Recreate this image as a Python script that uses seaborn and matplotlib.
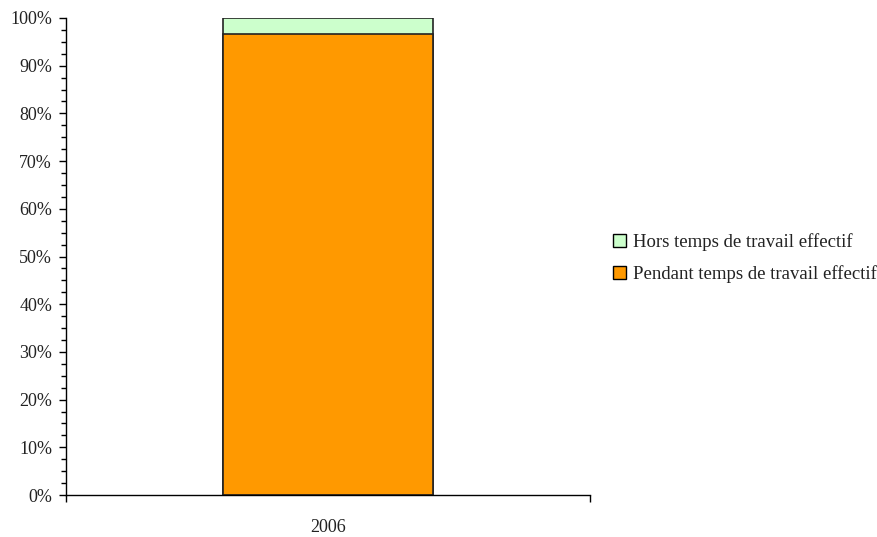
import matplotlib
matplotlib.use("Agg")
import matplotlib.pyplot as plt
from matplotlib.patches import Patch
from matplotlib.ticker import MultipleLocator, FuncFormatter, FixedLocator
import seaborn as sns
import pandas as pd

# Data: share of time (%) by period, 2006
years = ["2006"]
pendant = [96.6]   # Pendant temps de travail effectif
hors = [3.4]       # Hors temps de travail effectif
series_labels = ["Hors temps de travail effectif", "Pendant temps de travail effectif"]

sns.set_style("white")
plt.rcParams["font.family"] = ["Liberation Serif", "DejaVu Serif"]

df = pd.DataFrame({
    "annee": years,
    "pendant": pendant,
    "total": [p + h for p, h in zip(pendant, hors)],
})

fig = plt.figure(figsize=(8.77, 5.37), dpi=100)
ax = fig.add_axes([66 / 877, 1 - 495 / 537, (590 - 66) / 877, (495 - 18) / 537])

green = "#CCFFCC"
orange = "#FF9900"
fs = 13

# Stacked bar: full height in green, then the lower segment in orange
sns.barplot(data=df, x="annee", y="total", color=green, edgecolor="#222222",
            linewidth=1.2, width=0.4, saturation=1, ax=ax)
sns.barplot(data=df, x="annee", y="pendant", color=orange, edgecolor="#222222",
            linewidth=1.2, width=0.4, saturation=1, ax=ax)

ax.set_xlim(-0.5, 0.5)
ax.set_ylim(0, 100)
ax.set_xlabel("")
ax.set_ylabel("")

for s in ["top", "right"]:
    ax.spines[s].set_visible(False)
for s in ["left", "bottom"]:
    ax.spines[s].set_color("black")
    ax.spines[s].set_linewidth(1.0)

# Y axis: major every 10 %, minor every 2.5 %
ax.yaxis.set_major_locator(MultipleLocator(10))
ax.yaxis.set_minor_locator(MultipleLocator(2.5))
ax.yaxis.set_major_formatter(FuncFormatter(lambda v, _: f"{v:.0f}%"))
ax.tick_params(axis="y", which="major", direction="out", length=5, width=1,
               color="black", labelsize=fs, labelcolor="#222222", pad=5, left=True)
ax.tick_params(axis="y", which="minor", direction="out", length=3.5, width=1,
               color="black", left=True)

# X axis: category label centred, boundary ticks at the edges
ax.xaxis.set_minor_locator(FixedLocator([-0.5, 0.5]))
ax.tick_params(axis="x", which="major", length=0, pad=17, labelsize=fs,
               labelcolor="#222222")
ax.tick_params(axis="x", which="minor", direction="out", length=5, width=1,
               color="black", bottom=True)

handles = [
    Patch(facecolor=green, edgecolor="black", linewidth=1.0, label=series_labels[0]),
    Patch(facecolor=orange, edgecolor="black", linewidth=1.0, label=series_labels[1]),
]
fig.legend(handles=handles, loc="upper left", bbox_to_anchor=(613 / 877, 1 - 233 / 537),
           frameon=False, fontsize=fs + 0.5, handlelength=0.7, handleheight=0.7,
           handletextpad=0.35, labelspacing=0.75, borderaxespad=0, borderpad=0,
           labelcolor="#222222")

fig.savefig("out.png", dpi=100)
